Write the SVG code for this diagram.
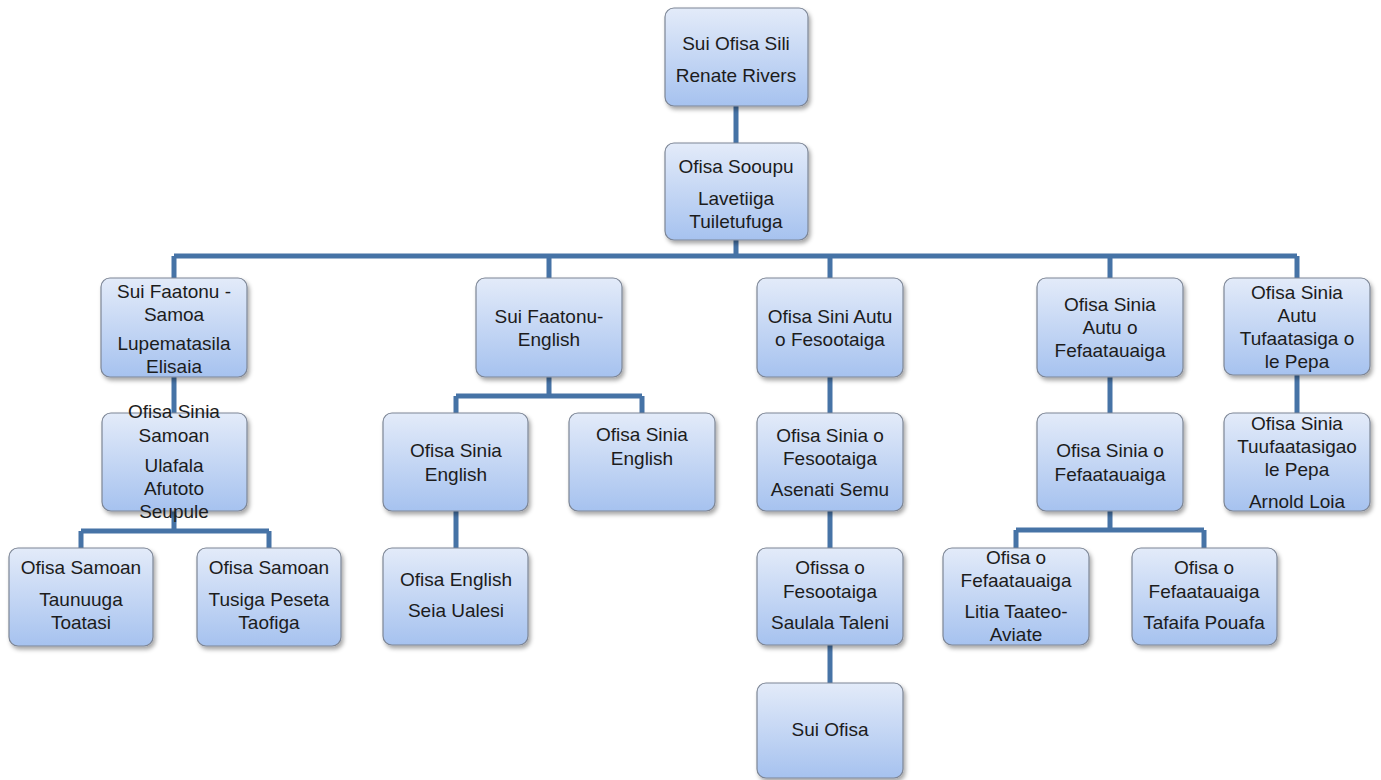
<svg xmlns="http://www.w3.org/2000/svg" width="1381" height="780" viewBox="0 0 1381 780">
<style>
.box{fill:url(#g);stroke:#7d8696;stroke-width:1.2;filter:url(#sh)}
.t{font-family:"Liberation Sans",Arial,sans-serif;font-size:19px;fill:#1c1c1c;text-anchor:middle}
.c{fill:none;stroke:#4673a6;stroke-width:5}
</style>
<defs>
<linearGradient id="g" x1="0" y1="0" x2="0" y2="1">
<stop offset="0" stop-color="#e3ebf9"/>
<stop offset="1" stop-color="#a6c2ef"/>
</linearGradient>
<filter id="sh" x="-10%" y="-10%" width="125%" height="125%">
<feDropShadow dx="2" dy="3" stdDeviation="2" flood-color="#000" flood-opacity="0.35"/>
</filter>
</defs>
<rect width="1381" height="780" fill="#fff"/>
<g id="connectors">
<path class="c" d="M736 106V143M736 240V256M174 256H1297M174 256V278M549 256V278M830 256V278M1110 256V278M1297 256V278"/>
<path class="c" d="M174 377V413M174 511V531M81 531H269M81 531V548M269 531V548"/>
<path class="c" d="M549 377V396M456 396H642M456 396V413M642 396V413M456 511V548"/>
<path class="c" d="M830 377V413M830 511V548M830 645V683"/>
<path class="c" d="M1110 377V413M1110 511V530M1016 530H1204M1016 530V548M1204 530V548"/>
<path class="c" d="M1297 375V413"/>
</g>
<g id="n1"><rect class="box" x="665" y="8" width="143" height="98" rx="9"/><text class="t" x="736" y="50">Sui Ofisa Sili</text><text class="t" x="736" y="82">Renate Rivers</text></g>
<g id="n2"><rect class="box" x="665" y="143" width="143" height="97" rx="9"/><text class="t" x="736" y="173">Ofisa Sooupu</text><text class="t" x="736" y="205">Lavetiiga</text><text class="t" x="736" y="228">Tuiletufuga</text></g>
<g id="n3"><rect class="box" x="101" y="278" width="146" height="99" rx="9"/><text class="t" x="174" y="298">Sui Faatonu -</text><text class="t" x="174" y="321">Samoa</text><text class="t" x="174" y="350">Lupematasila</text><text class="t" x="174" y="373">Elisaia</text></g>
<g id="n4"><rect class="box" x="102" y="413" width="145" height="98" rx="9"/><text class="t" x="174" y="418">Ofisa Sinia</text><text class="t" x="174" y="442">Samoan</text><text class="t" x="174" y="472">Ulafala</text><text class="t" x="174" y="495">Afutoto</text><text class="t" x="174" y="518">Seupule</text></g>
<g id="n5"><rect class="box" x="9" y="548" width="144" height="98" rx="9"/><text class="t" x="81" y="574">Ofisa Samoan</text><text class="t" x="81" y="606">Taunuuga</text><text class="t" x="81" y="629">Toatasi</text></g>
<g id="n6"><rect class="box" x="197" y="548" width="144" height="98" rx="9"/><text class="t" x="269" y="574">Ofisa Samoan</text><text class="t" x="269" y="606">Tusiga Peseta</text><text class="t" x="269" y="629">Taofiga</text></g>
<g id="n7"><rect class="box" x="476" y="278" width="146" height="99" rx="9"/><text class="t" x="549" y="323">Sui Faatonu-</text><text class="t" x="549" y="346">English</text></g>
<g id="n8"><rect class="box" x="383" y="413" width="145" height="98" rx="9"/><text class="t" x="456" y="457">Ofisa Sinia</text><text class="t" x="456" y="481">English</text></g>
<g id="n9"><rect class="box" x="569" y="413" width="146" height="98" rx="9"/><text class="t" x="642" y="441">Ofisa Sinia</text><text class="t" x="642" y="465">English</text></g>
<g id="n10"><rect class="box" x="383" y="548" width="145" height="97" rx="9"/><text class="t" x="456" y="586">Ofisa English</text><text class="t" x="456" y="617">Seia Ualesi</text></g>
<g id="n11"><rect class="box" x="757" y="278" width="146" height="99" rx="9"/><text class="t" x="830" y="323">Ofisa Sini Autu</text><text class="t" x="830" y="346">o Fesootaiga</text></g>
<g id="n12"><rect class="box" x="757" y="413" width="146" height="98" rx="9"/><text class="t" x="830" y="442">Ofisa Sinia o</text><text class="t" x="830" y="465">Fesootaiga</text><text class="t" x="830" y="496">Asenati Semu</text></g>
<g id="n13"><rect class="box" x="757" y="548" width="146" height="97" rx="9"/><text class="t" x="830" y="574">Ofissa o</text><text class="t" x="830" y="598">Fesootaiga</text><text class="t" x="830" y="629">Saulala Taleni</text></g>
<g id="n14"><rect class="box" x="757" y="683" width="146" height="95" rx="9"/><text class="t" x="830" y="736">Sui Ofisa</text></g>
<g id="n15"><rect class="box" x="1037" y="278" width="146" height="99" rx="9"/><text class="t" x="1110" y="311">Ofisa Sinia</text><text class="t" x="1110" y="334">Autu o</text><text class="t" x="1110" y="357">Fefaatauaiga</text></g>
<g id="n16"><rect class="box" x="1037" y="413" width="146" height="98" rx="9"/><text class="t" x="1110" y="457">Ofisa Sinia o</text><text class="t" x="1110" y="481">Fefaatauaiga</text></g>
<g id="n17"><rect class="box" x="943" y="548" width="146" height="97" rx="9"/><text class="t" x="1016" y="564">Ofisa o</text><text class="t" x="1016" y="587">Fefaatauaiga</text><text class="t" x="1016" y="618">Litia Taateo-</text><text class="t" x="1016" y="641">Aviate</text></g>
<g id="n18"><rect class="box" x="1132" y="548" width="145" height="97" rx="9"/><text class="t" x="1204" y="574">Ofisa o</text><text class="t" x="1204" y="598">Fefaatauaiga</text><text class="t" x="1204" y="629">Tafaifa Pouafa</text></g>
<g id="n19"><rect class="box" x="1224" y="278" width="146" height="97" rx="9"/><text class="t" x="1297" y="299">Ofisa Sinia</text><text class="t" x="1297" y="322">Autu</text><text class="t" x="1297" y="345">Tufaatasiga o</text><text class="t" x="1297" y="368">le Pepa</text></g>
<g id="n20"><rect class="box" x="1224" y="413" width="146" height="98" rx="9"/><text class="t" x="1297" y="430">Ofisa Sinia</text><text class="t" x="1297" y="453">Tuufaatasigao</text><text class="t" x="1297" y="476">le Pepa</text><text class="t" x="1297" y="508">Arnold Loia</text></g>
</svg>
